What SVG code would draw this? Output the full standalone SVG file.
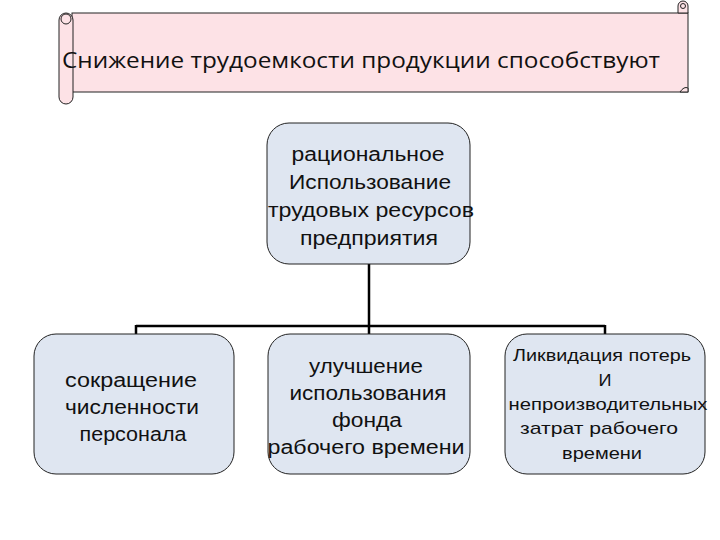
<svg xmlns="http://www.w3.org/2000/svg" width="720" height="540" viewBox="0 0 720 540">
<style>
.box{fill:#dfe6f1;stroke:#222;stroke-width:1}
.scroll{fill:#fde2e6;stroke:#222;stroke-width:1}
.t{font-family:"Liberation Sans",Arial,sans-serif;font-size:20px;fill:#111;text-anchor:middle}
.s{font-size:17px}
.conn{fill:none;stroke:#000;stroke-width:2.5}
</style>
<rect width="720" height="540" fill="#fff"/>
<g id="banner">
<rect class="scroll" x="72" y="13" width="616" height="79"/>
<path class="scroll" d="M678,13 V6 A5,5 0 0 1 688,6 V13 Z"/>
<circle class="scroll" cx="683" cy="6" r="2.5"/>
<path class="scroll" d="M680,92 Q684,86 688,88 V92 Z"/>
<rect class="scroll" x="59" y="13" width="14" height="91" rx="7"/>
<circle class="scroll" cx="66" cy="19" r="5"/>
<text x="361" y="68" font-family="Open Sans, Liberation Sans, sans-serif" font-size="22" fill="#111" text-anchor="middle" textLength="598" lengthAdjust="spacingAndGlyphs">Снижение трудоемкости продукции способствуют</text>
</g>
<g id="connectors">
<path class="conn" d="M369,264 V326 M136,326 H605 M136,325 V334 M369,326 V334 M605,325 V334"/>
</g>
<g id="top">
<rect class="box" x="267" y="123" width="203" height="141" rx="22"/>
<text class="t" x="368" y="161" textLength="153" lengthAdjust="spacingAndGlyphs">рациональное</text>
<text class="t" x="370" y="189" textLength="162" lengthAdjust="spacingAndGlyphs">Использование</text>
<text class="t" x="371" y="217" textLength="206" lengthAdjust="spacingAndGlyphs">трудовых ресурсов</text>
<text class="t" x="369" y="245" textLength="138" lengthAdjust="spacingAndGlyphs">предприятия</text>
</g>
<g id="left">
<rect class="box" x="34" y="334" width="200" height="140" rx="22"/>
<text class="t" x="131" y="387" textLength="132" lengthAdjust="spacingAndGlyphs">сокращение</text>
<text class="t" x="132" y="414" textLength="134" lengthAdjust="spacingAndGlyphs">численности</text>
<text class="t" x="133" y="441" textLength="107" lengthAdjust="spacingAndGlyphs">персонала</text>
</g>
<g id="middle">
<rect class="box" x="268" y="334" width="202" height="140" rx="22"/>
<text class="t" x="366" y="373" textLength="114" lengthAdjust="spacingAndGlyphs">улучшение</text>
<text class="t" x="368" y="400" textLength="157" lengthAdjust="spacingAndGlyphs">использования</text>
<text class="t" x="367" y="427" textLength="70" lengthAdjust="spacingAndGlyphs">фонда</text>
<text class="t" x="366" y="454" textLength="197" lengthAdjust="spacingAndGlyphs">рабочего времени</text>
</g>
<g id="right">
<rect class="box" x="505" y="334" width="200" height="140" rx="22"/>
<text class="t s" x="602" y="361" textLength="178" lengthAdjust="spacingAndGlyphs">Ликвидация потерь</text>
<text class="t s" x="605" y="386" textLength="13" lengthAdjust="spacingAndGlyphs">И</text>
<text class="t s" x="608" y="410" textLength="199" lengthAdjust="spacingAndGlyphs">непроизводительных</text>
<text class="t s" x="599" y="434" textLength="158" lengthAdjust="spacingAndGlyphs">затрат рабочего</text>
<text class="t s" x="602" y="459" textLength="80" lengthAdjust="spacingAndGlyphs">времени</text>
</g>
</svg>
